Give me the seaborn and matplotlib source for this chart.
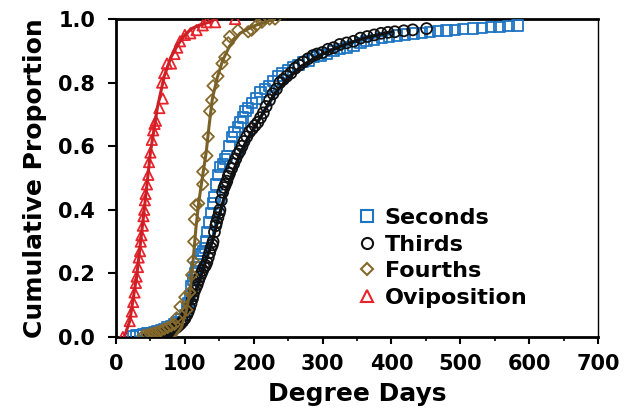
import matplotlib
matplotlib.use("Agg")
import matplotlib.pyplot as plt
import seaborn as sns
import pandas as pd
from matplotlib.ticker import MultipleLocator, FormatStrFormatter
from matplotlib.lines import Line2D

# ---------------- data ----------------
seconds_x = [25, 30, 35, 40, 45, 50, 55, 60, 65, 70, 75, 80, 85, 90, 95, 100, 103, 105, 107, 109,
             112, 115, 117, 120, 123, 126, 129, 131, 133, 136, 138, 141, 143, 146, 149, 151, 155, 158,
             161, 165, 168, 172, 177, 181, 184, 188, 192, 198, 204, 210, 216, 222, 228, 235, 242, 250,
             258, 265, 272, 280, 288, 297, 306, 316, 325, 335, 345, 355, 364, 375, 386, 397, 408, 420,
             432, 444, 456, 468, 480, 492, 504, 518, 532, 545, 557, 570, 583]
seconds_y = [0.003, 0.005, 0.007, 0.009, 0.011, 0.013, 0.016, 0.019, 0.022, 0.026, 0.03, 0.035, 0.04,
             0.047, 0.055, 0.07, 0.09, 0.105, 0.13, 0.16, 0.18, 0.2, 0.22, 0.24, 0.26, 0.27, 0.28, 0.30,
             0.33, 0.36, 0.39, 0.42, 0.44, 0.48, 0.51, 0.535, 0.545, 0.56, 0.57, 0.60, 0.63, 0.645, 0.66,
             0.675, 0.69, 0.71, 0.72, 0.735, 0.75, 0.77, 0.78, 0.79, 0.805, 0.82, 0.83, 0.84, 0.85, 0.855,
             0.865, 0.87, 0.88, 0.885, 0.89, 0.90, 0.905, 0.91, 0.915, 0.925, 0.93, 0.935, 0.94, 0.944,
             0.948, 0.951, 0.954, 0.957, 0.96, 0.962, 0.964, 0.966, 0.968, 0.97, 0.972, 0.974, 0.975,
             0.977, 0.98]
seconds_fit_x = [30, 60, 90, 110, 120, 130, 140, 150, 160, 170, 180, 200, 230, 260, 300, 350, 400]
seconds_fit_y = [0.0, 0.015, 0.05, 0.12, 0.17, 0.24, 0.31, 0.38, 0.45, 0.51, 0.565, 0.655, 0.76, 0.835,
                 0.89, 0.93, 0.955]

thirds_x = [48, 52, 55, 58, 61, 64, 67, 70, 73, 76, 79, 82, 85, 88, 91, 94, 97, 100, 103, 105, 107, 109,
            111, 112, 114, 116, 118, 120, 122, 124, 126, 128, 130, 132, 134, 136, 138, 140, 141, 143, 145,
            146, 148, 150, 151, 153, 155, 157, 159, 161, 163, 165, 168, 171, 174, 177, 180, 183, 186, 190,
            194, 198, 202, 206, 210, 214, 218, 223, 228, 233, 238, 243, 248, 254, 260, 266, 272, 279, 286,
            292, 300, 308, 316, 325, 335, 345, 355, 365, 375, 385, 395, 405, 418, 431, 451]
thirds_y = [0.003, 0.004, 0.005, 0.006, 0.007, 0.008, 0.01, 0.012, 0.014, 0.016, 0.019, 0.022, 0.026,
            0.03, 0.036, 0.042, 0.05, 0.058, 0.07, 0.08, 0.092, 0.105, 0.12, 0.13, 0.145, 0.155, 0.165,
            0.178, 0.19, 0.20, 0.21, 0.22, 0.225, 0.235, 0.25, 0.265, 0.28, 0.29, 0.30, 0.33, 0.35, 0.36,
            0.375, 0.39, 0.40, 0.43, 0.455, 0.47, 0.48, 0.49, 0.505, 0.515, 0.53, 0.545, 0.56, 0.575,
            0.585, 0.60, 0.615, 0.63, 0.645, 0.655, 0.665, 0.675, 0.69, 0.705, 0.725, 0.745, 0.765, 0.78,
            0.80, 0.81, 0.82, 0.83, 0.845, 0.855, 0.865, 0.875, 0.885, 0.89, 0.895, 0.905, 0.91, 0.92,
            0.925, 0.93, 0.94, 0.945, 0.95, 0.955, 0.958, 0.96, 0.963, 0.966, 0.97]
thirds_fit_x = [55, 70, 85, 100, 110, 120, 130, 140, 150, 160, 170, 180, 190, 200, 215, 230, 250, 270,
                290, 310, 330, 360, 400]
thirds_fit_y = [0.0, 0.01, 0.03, 0.062, 0.11, 0.17, 0.235, 0.30, 0.385, 0.46, 0.52, 0.575, 0.62, 0.655,
                0.71, 0.765, 0.815, 0.853, 0.88, 0.90, 0.918, 0.94, 0.96]

fourths_x = [40, 45, 50, 55, 60, 65, 70, 75, 80, 85, 88, 93, 100, 103, 107, 110, 112, 113, 114, 116,
             120, 126, 126, 132, 134, 136, 139, 141, 148, 154, 158, 163, 165, 177, 192, 197, 204, 212,
             216, 223, 231]
fourths_y = [0.005, 0.007, 0.01, 0.013, 0.016, 0.02, 0.025, 0.03, 0.035, 0.04, 0.06, 0.095, 0.125,
             0.085, 0.14, 0.195, 0.24, 0.30, 0.37, 0.415, 0.42, 0.48, 0.52, 0.57, 0.63, 0.71, 0.745,
             0.79, 0.82, 0.86, 0.88, 0.925, 0.945, 0.965, 0.96, 0.965, 0.98, 0.99, 1.0, 1.0, 1.0]
fourths_fit_x = [85, 95, 102, 108, 112, 116, 120, 126, 131, 135, 140, 147, 155, 165, 180, 200, 230]
fourths_fit_y = [0.0, 0.03, 0.08, 0.15, 0.24, 0.34, 0.42, 0.51, 0.58, 0.66, 0.75, 0.815, 0.87, 0.915,
                 0.955, 0.978, 1.0]

ovi_x = [10, 20, 23, 25, 27, 29, 30, 32, 33, 35, 36, 37, 39, 40, 41, 42, 43, 45, 47, 48, 50, 52, 54,
         56, 58, 63, 68, 67, 70, 74, 80, 85, 89, 93, 100, 108, 117, 126, 132, 144, 173]
ovi_y = [0.0, 0.05, 0.08, 0.11, 0.14, 0.17, 0.19, 0.22, 0.25, 0.27, 0.30, 0.32, 0.35, 0.38, 0.40, 0.43,
         0.45, 0.48, 0.51, 0.55, 0.58, 0.62, 0.65, 0.67, 0.68, 0.72, 0.75, 0.80, 0.83, 0.86, 0.86, 0.89,
         0.91, 0.93, 0.95, 0.955, 0.965, 0.98, 0.99, 0.99, 1.0]
ovi_fit_x = [12, 20, 30, 40, 50, 60, 70, 80, 90, 100, 110, 120, 135, 145]
ovi_fit_y = [0.0, 0.05, 0.19, 0.38, 0.58, 0.72, 0.82, 0.88, 0.92, 0.95, 0.97, 0.98, 0.99, 1.0]

labels = ["Seconds", "Thirds", "Fourths", "Oviposition"]
x_ticks = [0, 100, 200, 300, 400, 500, 600, 700]
y_ticks = [0.0, 0.2, 0.4, 0.6, 0.8, 1.0]

# ---------------- style ----------------
sns.set_theme(style="white")
plt.rcParams["font.family"] = ["DejaVu Sans"]
plt.rcParams["font.weight"] = "bold"
for key in ["text.color", "axes.labelcolor", "xtick.color", "ytick.color", "axes.edgecolor"]:
    plt.rcParams[key] = "black"

colors = {"Seconds": "#1c74c4", "Thirds": "#111111", "Fourths": "#85692b", "Oviposition": "#e8232b"}
line_colors = {"Seconds": "#1c74c4", "Thirds": "#111111", "Fourths": "#7a6128", "Oviposition": "#cc1f26"}
markers = {"Seconds": "s", "Thirds": "o", "Fourths": "D", "Oviposition": "^"}
msize = {"Seconds": 55, "Thirds": 62, "Fourths": 34, "Oviposition": 55}

series = {
    "Seconds": (seconds_x, seconds_y, seconds_fit_x, seconds_fit_y),
    "Thirds": (thirds_x, thirds_y, thirds_fit_x, thirds_fit_y),
    "Fourths": (fourths_x, fourths_y, fourths_fit_x, fourths_fit_y),
    "Oviposition": (ovi_x, ovi_y, ovi_fit_x, ovi_fit_y),
}

fig = plt.figure(figsize=(6.32, 4.18), dpi=100)
ax = fig.add_axes([0.1835, 0.1938, 0.7627, 0.7607])

for z, name in enumerate(labels):
    px, py, fx, fy = series[name]
    pts = pd.DataFrame({"x": px, "y": py})
    fit = pd.DataFrame({"x": fx, "y": fy})
    sns.scatterplot(data=pts, x="x", y="y", ax=ax, marker=markers[name], s=msize[name],
                    facecolors="none", edgecolors=colors[name], linewidths=1.3, zorder=3 + z,
                    legend=False)
    sns.lineplot(data=fit, x="x", y="y", ax=ax, color=line_colors[name], lw=2.2,
                 estimator=None, sort=False, zorder=3 + z, legend=False)

ax.set_xlim(0, 700)
ax.set_ylim(0, 1.0)
ax.set_xticks(x_ticks)
ax.set_yticks(y_ticks)
ax.xaxis.set_minor_locator(MultipleLocator(50))
ax.yaxis.set_major_formatter(FormatStrFormatter("%.1f"))

ax.tick_params(axis="x", which="major", direction="out", length=5, width=1.5, pad=7,
               labelsize=15, bottom=True, colors="black")
ax.tick_params(axis="x", which="minor", direction="out", length=3, width=1.2, bottom=True,
               colors="black")
ax.tick_params(axis="y", which="major", direction="out", length=6, width=1.5, pad=9,
               labelsize=15, left=True, colors="black")
for lab in ax.get_xticklabels() + ax.get_yticklabels():
    lab.set_fontweight("bold")

for side in ["left", "bottom", "top"]:
    ax.spines[side].set_linewidth(2.0)
    ax.spines[side].set_color("black")
ax.spines["right"].set_linewidth(1.0)
ax.spines["right"].set_color("black")

ax.set_xlabel("Degree Days", fontsize=18, fontweight="bold", labelpad=6, color="black")
ax.set_ylabel("Cumulative Proportion", fontsize=18, fontweight="bold", labelpad=8, color="black")

handles = [Line2D([], [], linestyle="none", marker=markers[n], markersize=8 if n != "Fourths" else 6.5,
                  markerfacecolor="none", markeredgecolor=colors[n], markeredgewidth=1.5)
           for n in labels]
leg = ax.legend(handles, labels, loc="upper left", bbox_to_anchor=(0.47, 0.455), frameon=False,
                prop={"size": 16, "weight": "bold"}, handlelength=0.8, handletextpad=0.4,
                labelspacing=0.3, borderpad=0.2)
for t in leg.get_texts():
    t.set_color("black")

fig.savefig("out.png", dpi=100)
